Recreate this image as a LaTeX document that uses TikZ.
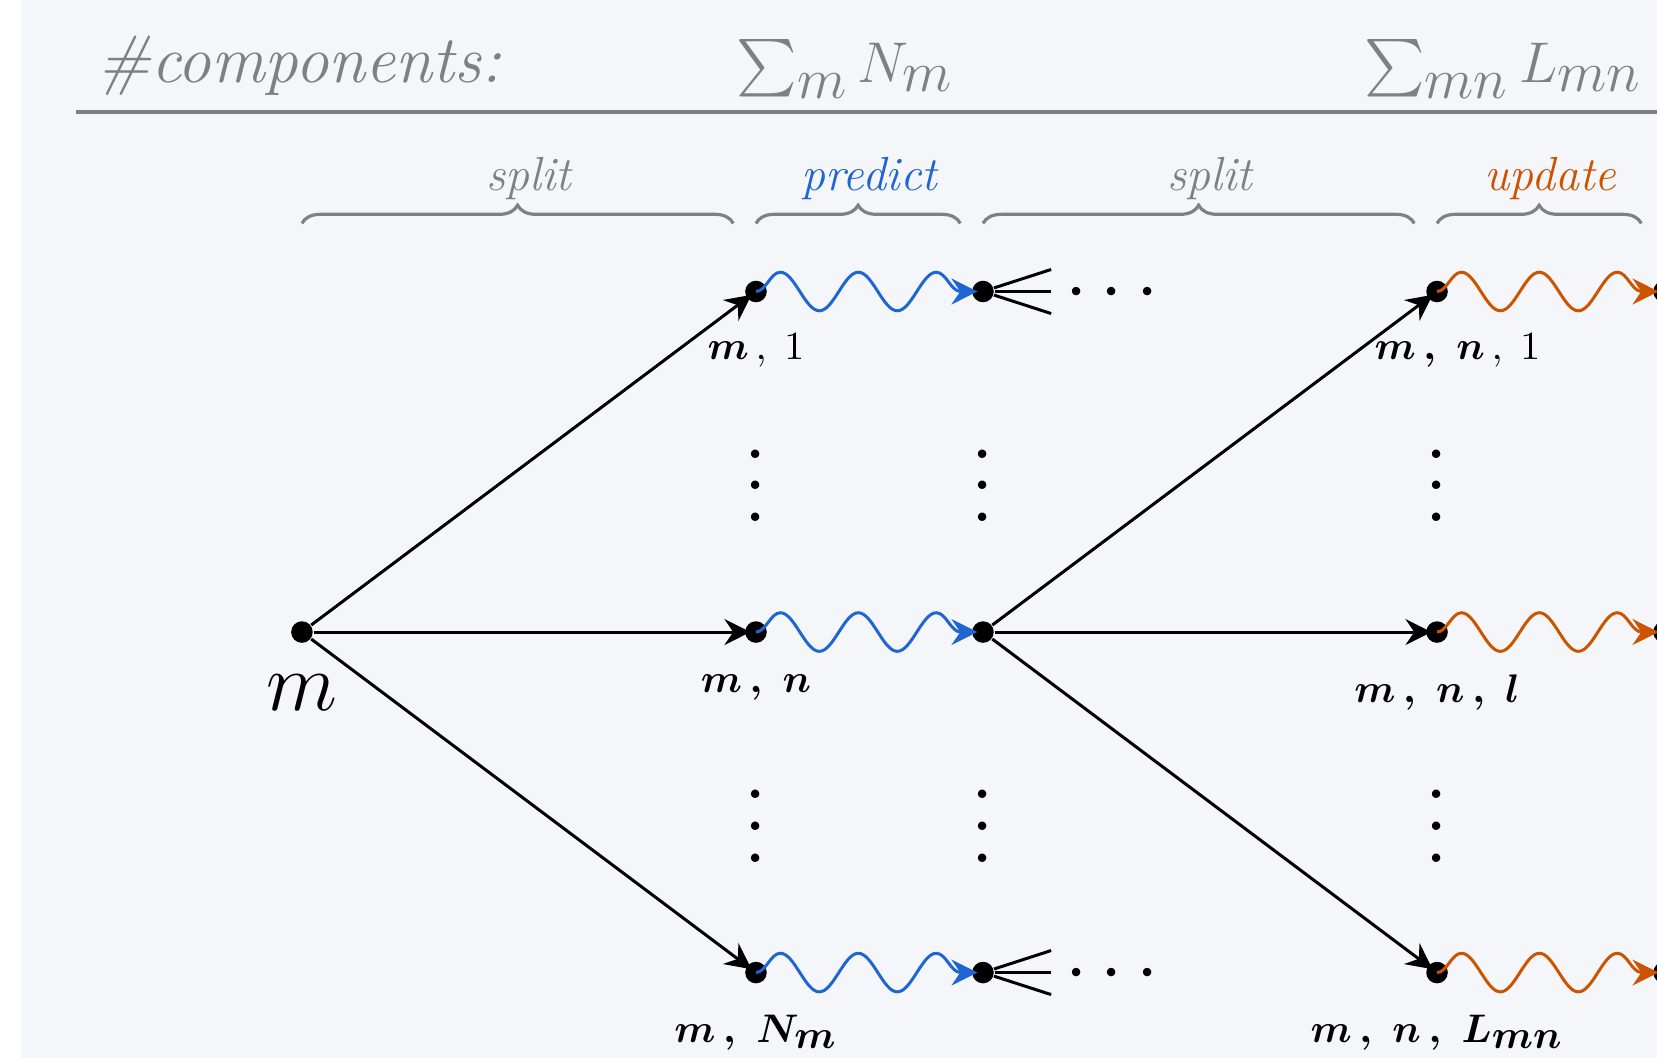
\documentclass[tikz,border=0pt]{standalone}
\usepackage{amsmath}
\usepackage{xcolor}
\usetikzlibrary{positioning,calc,arrows.meta,decorations.pathmorphing,decorations.pathreplacing}
\definecolor{bgGray}{RGB}{244,246,250}
\definecolor{headGray}{RGB}{128,128,128}
\definecolor{predBlue}{RGB}{31,102,210}
\definecolor{updOrange}{RGB}{204,84,0}

\begin{document}
\begin{tikzpicture}[
    x=2cm, y=2cm,
    dot/.style={circle, fill=black, inner sep=0pt, minimum size=0.19cm},
    arrow/.style={-{Stealth[length=6.5pt, width=6.5pt, inset=2.2pt]}, line width=0.75pt, shorten >=-1.5pt},
    wave/.style={arrow, decorate, decoration={snake, segment length=0.687cm, amplitude=0.17cm, post length=0.08cm}},
    fan/.style={line width=0.75pt},
    vdot/.style={scale=2, inner sep=0pt},
    brace/.style={decorate, decoration={brace, amplitude=0.16cm}, headGray, line width=0.8pt},
    phase/.style={midway, anchor=base, xshift=0.1cm, yshift=0.29cm, font=\large\itshape},
    head/.style={headGray, font=\Large, anchor=base}
]
    % Page and background
    \useasboundingbox (-1.330,-1.877) rectangle (5.969,2.784);
    \fill[white] (-1.330,-1.877) rectangle (5.969,2.784);
    \fill[bgGray] (-1.238,-1.877) rectangle (5.969,2.784);

    % Header
    \node[head, anchor=base west, font=\fontsize{16.8pt}{20pt}\selectfont] (comp) at (-0.963,2.421) {\textit{\#components:}};
    \node[head] (sumN) at (2.393,2.421) {$\sum_{\textstyle m} N_{\textstyle m}$};
    \node[head] (sumL) at (5.291,2.421) {$\sum_{\textstyle mn} L_{\textstyle mn}$};
    \coordinate (hl) at (-0.996,2.291);
    \coordinate (hr) at (6.1,2.291);
    \draw[headGray, line width=0.8pt] (hl) -- (hr);

    % Root
    \node[dot] (m) at (0,0) {};
    \node[below=0.15cm of m, font=\huge] (mlab) {$m$};

    % First split
    \node[dot] (m1) at (2,1.5) {};
    \node[dot] (mn) at (2,0) {};
    \node[dot] (mN) at (2,-1.5) {};
    \node[below=0.15cm of m1] (m1lab) {$\boldsymbol{m}\,,\;1$};
    \node[below=0.15cm of mn] (mnlab) {$\boldsymbol{m\,,\;n}$};
    \node[below=0.15cm of mN] (mNlab) {$\boldsymbol{m\,,\;N_{\textstyle m}}$};

    % Predicted
    \node[dot] (p1) at (3,1.5) {};
    \node[dot] (pn) at (3,0) {};
    \node[dot] (pN) at (3,-1.5) {};

    % Second split
    \node[dot] (mn1) at (5,1.5) {};
    \node[dot] (mnl) at (5,0) {};
    \node[dot] (mnL) at (5,-1.5) {};
    \node[below=0.15cm of mn1, xshift=0.18cm] (mn1lab) {$\boldsymbol{m\,,\;n}\,,\;1$};
    \node[below=0.15cm of mnl] (mnllab) {$\boldsymbol{m\,,\;n\,,\;l}$};
    \node[below=0.15cm of mnL] (mnLlab) {$\boldsymbol{m\,,\;n\,,\;L_{\textstyle mn}}$};

    % Updated
    \node[dot] (u1) at (6,1.5) {};
    \node[dot] (ul) at (6,0) {};
    \node[dot] (uL) at (6,-1.5) {};

    % Vertical dots
    \node[vdot] (v1a) at (2,0.75) {$\vdots$};
    \node[vdot] (v1b) at (2,-0.75) {$\vdots$};
    \node[vdot] (v2a) at (3,0.75) {$\vdots$};
    \node[vdot] (v2b) at (3,-0.75) {$\vdots$};
    \node[vdot] (v3a) at (5,0.75) {$\vdots$};
    \node[vdot] (v3b) at (5,-0.75) {$\vdots$};

    % Split arrows
    \draw[arrow] (m) -- (m1);
    \draw[arrow] (m) -- (mn);
    \draw[arrow] (m) -- (mN);
    \draw[arrow] (pn) -- (mn1);
    \draw[arrow] (pn) -- (mnl);
    \draw[arrow] (pn) -- (mnL);

    % Predict waves
    \draw[wave, predBlue] (m1.center) -- (p1);
    \draw[wave, predBlue] (mn.center) -- (pn);
    \draw[wave, predBlue] (mN.center) -- (pN);

    % Update waves
    \draw[wave, updOrange] (mn1.center) -- (u1);
    \draw[wave, updOrange] (mnl.center) -- (ul);
    \draw[wave, updOrange] (mnL.center) -- (uL);

    % Fans
    \coordinate (f1a) at (3.3,1.597);
    \coordinate (f1b) at (3.3,1.5);
    \coordinate (f1c) at (3.3,1.403);
    \draw[fan] (p1) -- (f1a);
    \draw[fan] (p1) -- (f1b);
    \draw[fan] (p1) -- (f1c);
    \node[vdot] (c1) at (3.597,1.49) {$\cdots$};
    \coordinate (f2a) at (3.3,-1.403);
    \coordinate (f2b) at (3.3,-1.5);
    \coordinate (f2c) at (3.3,-1.597);
    \draw[fan] (pN) -- (f2a);
    \draw[fan] (pN) -- (f2b);
    \draw[fan] (pN) -- (f2c);
    \node[vdot] (c2) at (3.597,-1.51) {$\cdots$};

    % Braces
    \coordinate (b1s) at (0,1.8);
    \coordinate (b1e) at (1.9,1.8);
    \coordinate (b2s) at (2,1.8);
    \coordinate (b2e) at (2.9,1.8);
    \coordinate (b3s) at (3,1.8);
    \coordinate (b3e) at (4.9,1.8);
    \coordinate (b4s) at (5,1.8);
    \coordinate (b4e) at (5.9,1.8);
    \draw[brace] (b1s) -- (b1e) node[phase, headGray] {split};
    \draw[brace] (b2s) -- (b2e) node[phase, predBlue] {predict};
    \draw[brace] (b3s) -- (b3e) node[phase, headGray] {split};
    \draw[brace] (b4s) -- (b4e) node[phase, updOrange] {update};
\end{tikzpicture}
\end{document}
